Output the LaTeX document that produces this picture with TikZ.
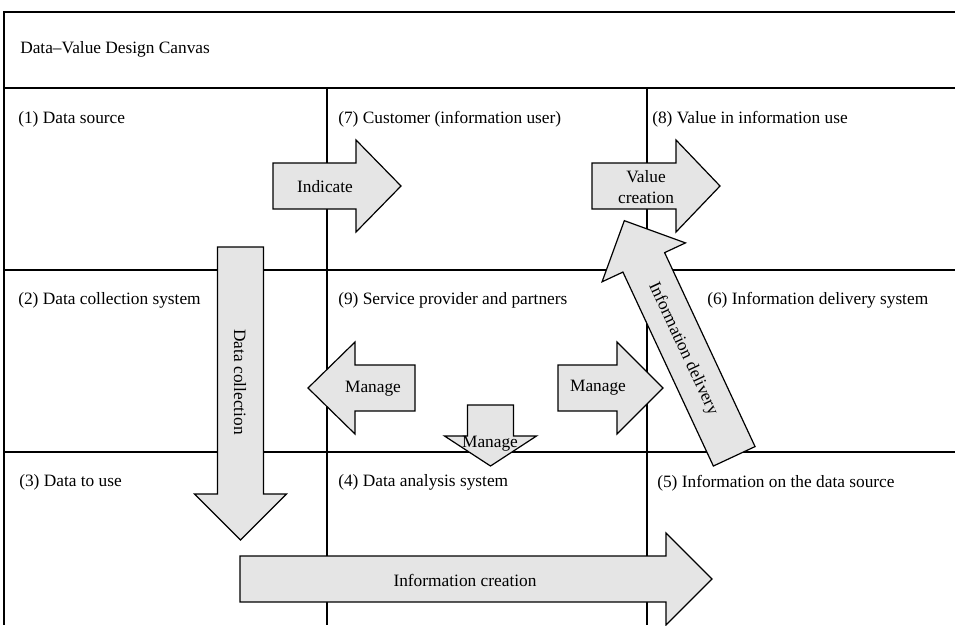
\documentclass[tikz,border=0pt]{standalone}
\usepackage{fontspec}
\setmainfont{Liberation Serif}
\newcommand\fatarrow[4]{%
  \begin{scope}[shift={#1}, rotate=#2]
    \draw[arrowbox] (0,-23) -- (#3-#4,-23) -- (#3-#4,-46) -- (#3,0) -- (#3-#4,46) -- (#3-#4,23) -- (0,23) -- cycle;
  \end{scope}}
\begin{document}
\begin{tikzpicture}[x=0.75pt,y=-0.75pt,
  grid/.style={line width=1.3pt},
  arrowbox/.style={draw=black, fill=black!10, line width=0.9pt, line join=miter},
  cell/.style={anchor=west, inner sep=0pt, text height=0.72em, text depth=0.22em, font=\fontsize{13}{15.6}\selectfont},
  alabel/.style={inner sep=0pt, align=center, font=\fontsize{13}{15.6}\selectfont}]
\useasboundingbox (0,0) rectangle (955,625);
% grid
\draw[grid] (955,12) -- (4,12) -- (4,625);
\draw[grid] (4,88) -- (955,88);
\draw[grid] (4,270) -- (955,270);
\draw[grid] (4,452) -- (955,452);
\draw[grid] (327,88) -- (327,625);
\draw[grid] (647,88) -- (647,625);
% cell labels
\node[cell] (title) at (20,50) {Data–Value Design Canvas};
\node[cell] (c1) at (18,120) {(1) Data source};
\node[cell] (c7) at (338,120) {(7) Customer (information user)};
\node[cell] (c8) at (652,120) {(8) Value in information use};
\node[cell] (c2) at (18,301) {(2) Data collection system};
\node[cell] (c9) at (338,301) {(9) Service provider and partners};
\node[cell] (c6) at (707,301) {(6) Information delivery system};
\node[cell] (c3) at (19,483) {(3) Data to use};
\node[cell] (c4) at (338,483) {(4) Data analysis system};
\node[cell] (c5) at (657,484) {(5) Information on the data source};
% arrows
\fatarrow{(273,186)}{0}{128}{45}
\fatarrow{(592,186)}{0}{128}{44}
\fatarrow{(240.5,247)}{-90}{293}{46}
\fatarrow{(415,388)}{180}{107}{47}
\fatarrow{(558,388)}{0}{105}{46}
\fatarrow{(490.5,405)}{-90}{61}{30}
\fatarrow{(240,579)}{0}{472}{46}
\fatarrow{(734.2,456.3)}{115}{260}{46}
% arrow labels
\node[alabel] (indicate) at (325,187) {Indicate};
\node[alabel] (valcre) at (646,187) {Value\\creation};
\node[alabel, rotate=-90] (datacoll) at (240,382) {Data collection};
\node[alabel] (manL) at (373,389) {Manage};
\node[alabel] (manR) at (598,388) {Manage};
\node[alabel] (manD) at (490,444) {Manage};
\node[alabel] (infocre) at (465,580) {Information creation};
\node[alabel, rotate=-65] (infodel) at (683,349) {Information delivery};
\end{tikzpicture}
\end{document}
